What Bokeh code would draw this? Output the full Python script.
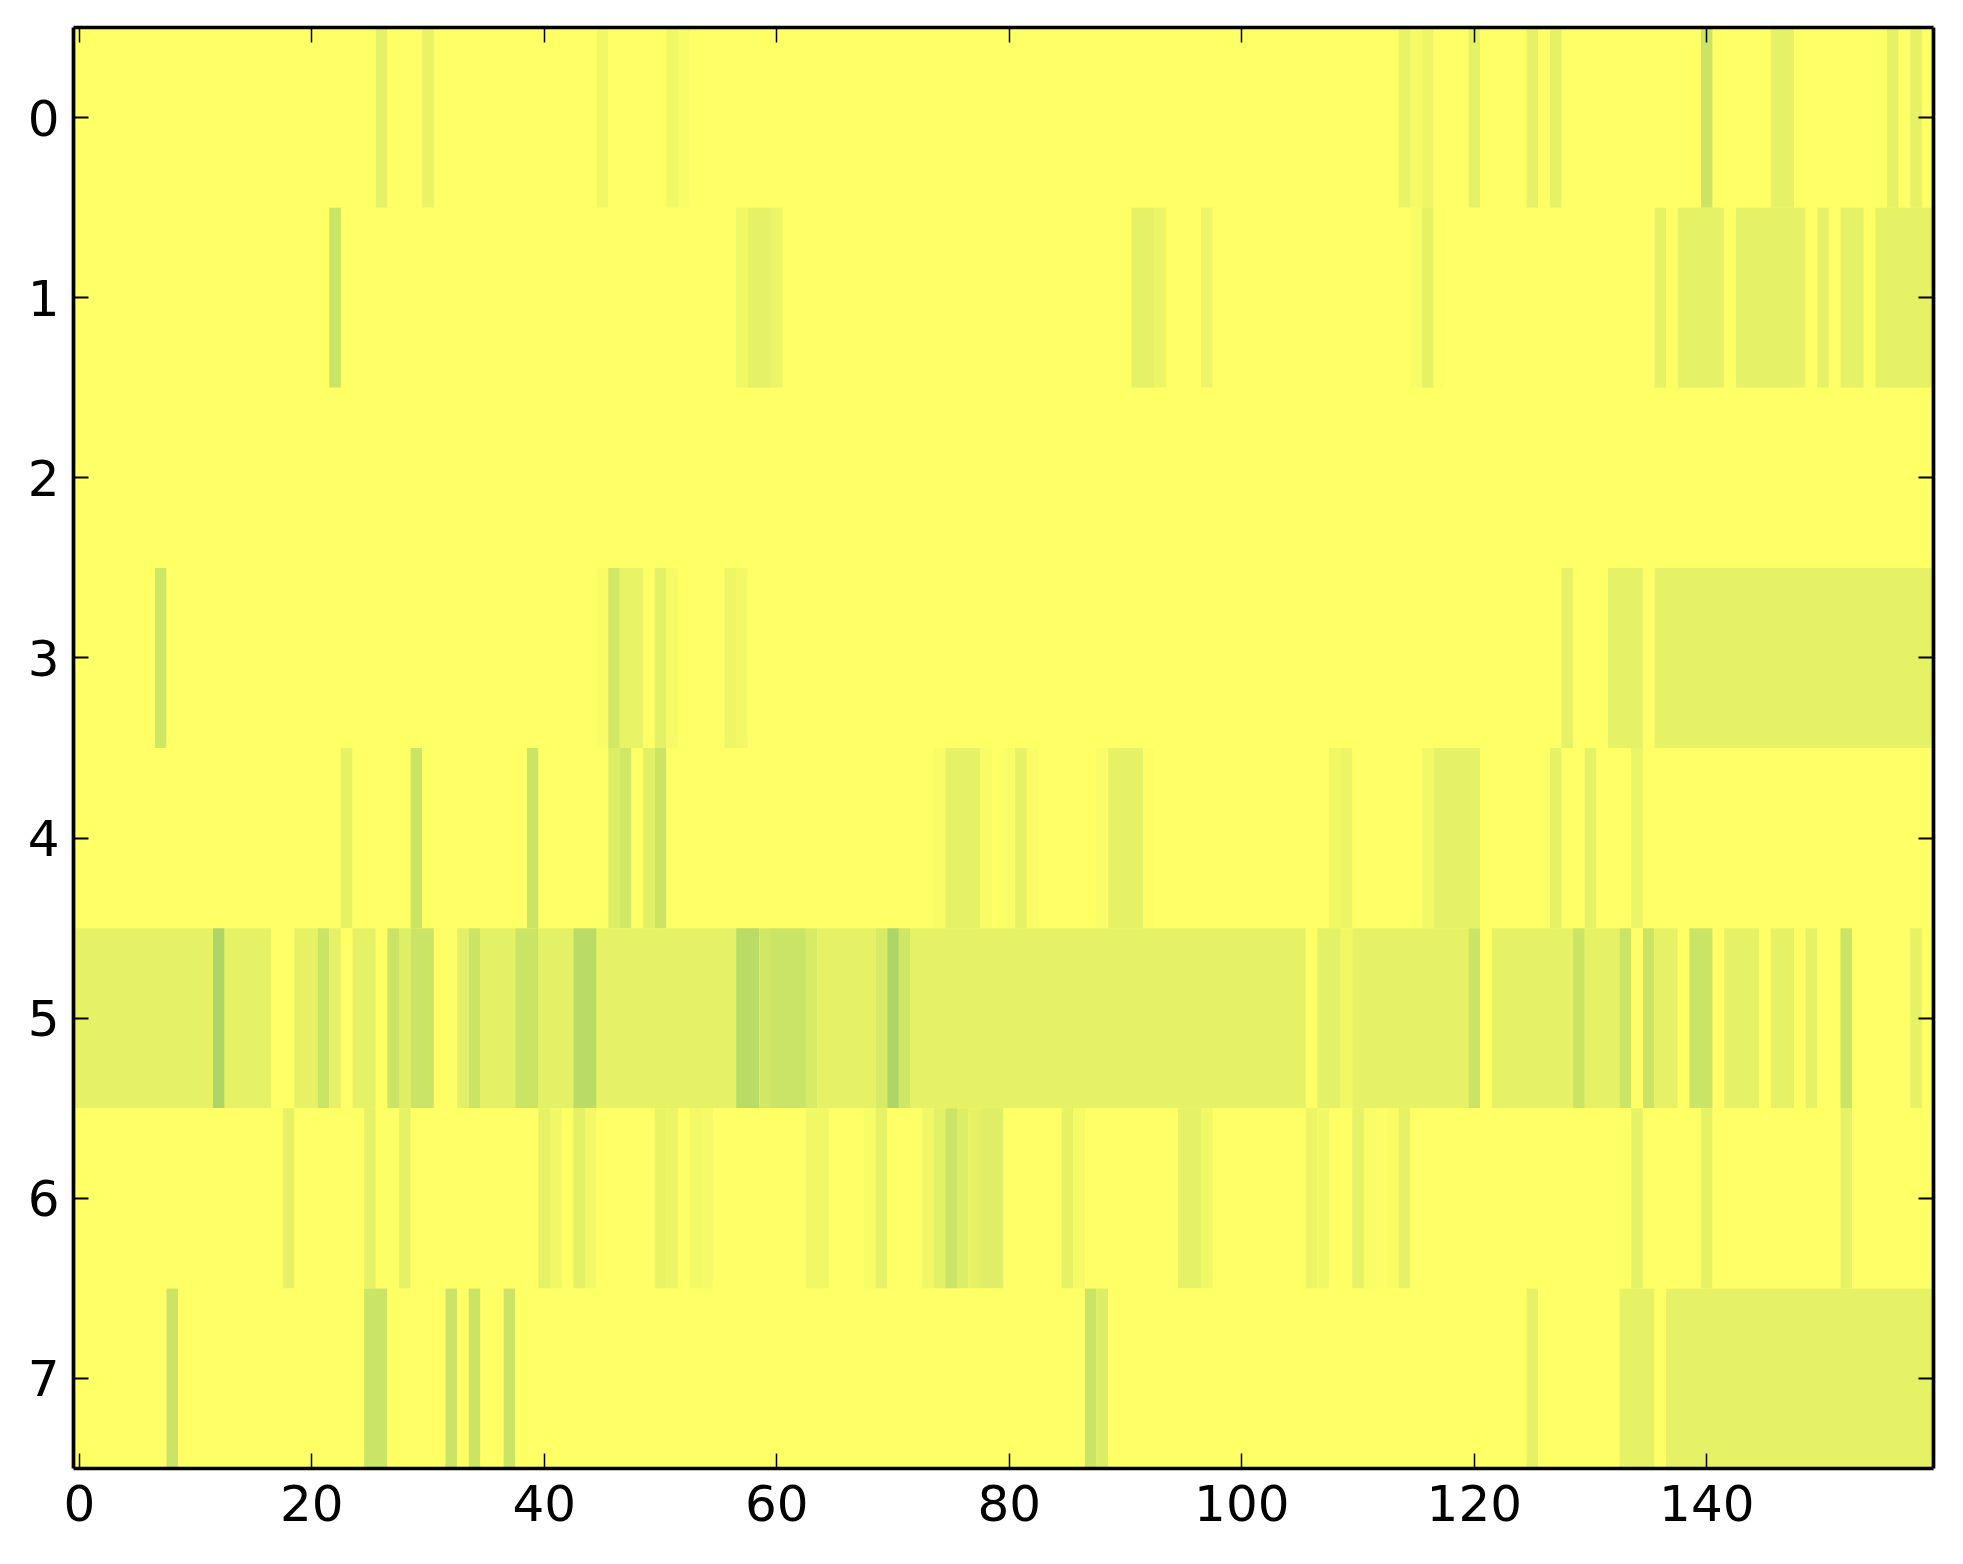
from bokeh.plotting import figure
from bokeh.models import Range1d, LinearAxis, FixedTicker, LinearColorMapper, ColumnDataSource
from bokeh.embed import file_html
from bokeh.resources import INLINE

# Each row: columns that are not zero, and their values
row0_cols = [26, 30, 45, 51, 52, 114, 115, 116, 120, 125, 127, 140, 146, 147, 156, 158]
row0_vals = [.1, .09, .06, .06, .03, .09, .04, .07, .1, .1, .1, .21, .1, .1, .1, .1]

row1_cols = [22, 57, 58, 59, 60, 91, 92, 93, 97, 115, 116, 117, 136,
             138, 139, 140, 141, 143, 144, 145, 146, 147, 148, 150, 152, 153,
             155, 156, 157, 158, 159]
row1_vals = [.21, .06, .1, .1, .08, .1, .1, .08, .08, .03, .1, .01, .1,
             .1, .1, .1, .1, .1, .1, .1, .1, .1, .1, .1, .1, .1,
             .1, .1, .1, .1, .1]

row2_cols = []
row2_vals = []

row3_cols = [7, 45, 46, 47, 48, 50, 51, 56, 57, 128, 132, 133, 134,
             136, 137, 138, 139, 140, 141, 142, 143, 144, 145, 146, 147,
             148, 149, 150, 151, 152, 153, 154, 155, 156, 157, 158, 159]
row3_vals = [.2, .02, .18, .09, .09, .11, .04, .07, .05, .1, .1, .1, .1,
             .1, .1, .1, .1, .1, .1, .1, .1, .1, .1, .1, .1,
             .1, .1, .1, .1, .1, .1, .1, .1, .1, .1, .1, .1]

row4_cols = [23, 29, 39, 46, 47, 49, 50, 74, 75, 76, 77, 78, 80, 81, 82,
             88, 89, 90, 91, 92, 108, 109, 116, 117, 118, 119, 120, 127, 130, 134]
row4_vals = [.1, .21, .21, .14, .18, .12, .21, .02, .1, .1, .1, .03, .03, .1, .02,
             .03, .1, .1, .1, .01, .06, .08, .05, .1, .1, .1, .1, .1, .1, .08]

row5_vals = [
    .1, .1, .1, .1, .1, .1, .1, .1, .1, .1,
    .1, .1, .32, .1, .1, .1, .1, 0, 0, .1,
    .1, .21, .1, 0, .1, .1, 0, .21, .13, .21,
    .21, 0, 0, .12, .21, .11, .11, .11, .21, .21,
    .11, .11, .11, .27, .27, .1, .1, .1, .1, .1,
    .1, .1, .1, .1, .1, .1, .1, .28, .28, .18,
    .21, .21, .21, .16, .1, .1, .1, .1, .1, .16,
    .32, .19, .1, .1, .1, .1, .1, .1, .1, .1,
    .1, .1, .1, .1, .1, .1, .1, .1, .1, .1,
    .1, .1, .1, .1, .1, .1, .1, .1, .1, .1,
    .1, .1, .1, .1, .1, .1, 0, .11, .11, .06,
    .1, .1, .1, .1, .1, .1, .1, .1, .1, .1,
    .21, 0, .1, .1, .1, .1, .1, .1, .1, .21,
    .1, .1, .1, .21, 0, .21, .1, .1, 0, .21,
    .21, 0, .1, .1, .1, 0, .1, .1, 0, .1,
    0, 0, .21, 0, 0, 0, 0, 0, .1, 0,
]
row5_cols = list(range(len(row5_vals)))

row6_cols = [18, 25, 28, 40, 41, 43, 44, 50, 51, 53, 54, 63, 64, 68, 69, 73, 74, 75, 76, 77, 78, 79,
             85, 86, 95, 96, 97, 106, 107, 110, 111, 112, 113, 114, 134, 140, 152]
row6_vals = [.1, .1, .1, .1, .06, .11, .05, .09, .08, .05, .04, .06, .06, .03, .1, .06, .11, .21, .14, .1, .13, .13,
             .1, .04, .1, .1, .06, .08, .06, .1, .03, .01, .02, .1, .1, .1, .1]

row7_cols = [8, 25, 26, 32, 34, 37, 87, 88, 125, 133, 134, 135,
             137, 138, 139, 140, 141, 142, 143, 144, 145, 146, 147, 148,
             149, 150, 151, 152, 153, 154, 155, 156, 157, 158, 159]
row7_vals = [.21, .21, .21, .21, .21, .21, .21, .14, .1, .1, .1, .1,
             .1, .1, .1, .1, .1, .1, .1, .1, .1, .1, .1, .1,
             .1, .1, .1, .1, .1, .1, .1, .1, .1, .1, .1]

x_ticks = [0, 20, 40, 60, 80, 100, 120, 140]
y_ticks = [0, 1, 2, 3, 4, 5, 6, 7]
n_cols = 160

rows = [(row0_cols, row0_vals), (row1_cols, row1_vals), (row2_cols, row2_vals), (row3_cols, row3_vals),
        (row4_cols, row4_vals), (row5_cols, row5_vals), (row6_cols, row6_vals), (row7_cols, row7_vals)]

# Merge equal neighbours so that no seams show between cells
left, right, top, bottom, val = [], [], [], [], []
for r, (cols, vals) in enumerate(rows):
    assert len(cols) == len(vals), r
    line = [0.0] * n_cols
    for c, v in zip(cols, vals):
        line[c] = v
    start = 0
    for c in range(1, n_cols + 1):
        if c == n_cols or line[c] != line[start]:
            left.append(start - 0.5)
            right.append(c - 0.5)
            top.append(r - 0.5)
            bottom.append(r + 0.5)
            val.append(line[start])
            start = c

# matplotlib "summer_r"
palette = ["#%02x%02x%02x" % (round(255 * (1 - i / 255)), round(255 * (1 - i / 510)), 102) for i in range(256)]
mapper = LinearColorMapper(palette=palette, low=0, high=1)

p = figure(width=1947, height=1548, frame_width=1860, frame_height=1441,
           x_range=Range1d(-0.5, 159.5), y_range=Range1d(7.5, -0.5),
           output_backend="svg", toolbar_location=None,
           x_axis_location=None, y_axis_location=None,
           min_border_left=73, min_border_right=14, min_border_top=27, min_border_bottom=80)
p.grid.visible = False
p.outline_line_color = None
p.background_fill_color = "#ffff66"

p.quad(left="left", right="right", top="top", bottom="bottom",
       source=ColumnDataSource(dict(left=left, right=right, top=top, bottom=bottom, val=val)),
       fill_color={"field": "val", "transform": mapper}, line_color=None)


def make_axis(ticks, show_labels, tick_w):
    ax = LinearAxis(ticker=FixedTicker(ticks=ticks))
    ax.axis_line_color = "black"
    ax.axis_line_width = 3.7
    ax.major_tick_line_color = "black"
    ax.major_tick_line_width = tick_w
    ax.major_tick_in = 15
    ax.major_tick_out = 0
    ax.minor_tick_line_color = None
    ax.major_label_text_font = "DejaVu Sans"
    ax.major_label_text_font_size = "50px"
    ax.major_label_text_color = "black"
    if not show_labels:
        ax.major_label_overrides = {t: "" for t in ticks}
        ax.major_label_standoff = 0
        ax.major_label_text_font_size = "1px"
    return ax


bottom_ax = make_axis(x_ticks, True, 1.5)
bottom_ax.major_label_standoff = 16
left_ax = make_axis(y_ticks, True, 2)
left_ax.major_label_standoff = 14
p.add_layout(bottom_ax, "below")
p.add_layout(left_ax, "left")
p.add_layout(make_axis(x_ticks, False, 1.5), "above")
p.add_layout(make_axis(y_ticks, False, 2), "right")

open("out.html", "w").write(file_html(p, INLINE))
